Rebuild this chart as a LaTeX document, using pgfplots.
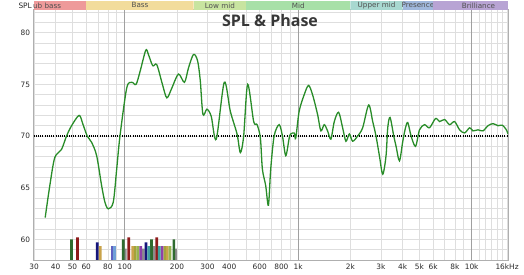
\documentclass[border=0pt]{standalone}
\usepackage{fontspec}
\setmainfont{DejaVu Sans}
\newfontfamily\titlefont{Open Sans}
\usepackage{pgfplots}
\pgfplotsset{compat=1.18}
\definecolor{curvec}{RGB}{40,140,40}
\definecolor{gridc}{RGB}{222,222,222}
\definecolor{gridd}{RGB}{160,160,160}
\definecolor{framec}{RGB}{175,175,175}
\definecolor{labelc}{RGB}{40,40,40}
\definecolor{titlec}{RGB}{55,55,55}
\definecolor{bandtext}{RGB}{80,80,80}
\definecolor{bsub}{RGB}{238,154,154}
\definecolor{bbass}{RGB}{242,220,156}
\definecolor{blowmid}{RGB}{200,228,160}
\definecolor{bmid}{RGB}{168,224,168}
\definecolor{bupper}{RGB}{168,216,208}
\definecolor{bpres}{RGB}{160,184,220}
\definecolor{bbril}{RGB}{184,164,212}
\definecolor{cgray}{RGB}{140,140,140}
\definecolor{cdgreen}{RGB}{47,107,47}
\definecolor{cdred}{RGB}{142,27,27}
\definecolor{cnavy}{RGB}{21,21,122}
\definecolor{ctan}{RGB}{201,163,74}
\definecolor{colive}{RGB}{163,163,58}
\definecolor{cygreen}{RGB}{150,180,80}
\definecolor{cpurple}{RGB}{144,64,168}
\definecolor{cslate}{RGB}{96,96,192}
\definecolor{clblue}{RGB}{112,160,216}
\definecolor{cteal}{RGB}{64,160,160}
\newcommand{\band}[5]{%
  \begin{scope}
    \clip (#1) rectangle ([yshift=9bp]#2);
    \fill[#3] (#1) rectangle ([yshift=9bp]#2);
    \node[inner sep=0pt, text=bandtext, font=\fontsize{7.2bp}{8bp}\selectfont] at ([yshift=4.6bp]#4) {#5};
  \end{scope}}
\begin{document}
\begin{tikzpicture}
\useasboundingbox (0,0) rectangle (524bp,275bp);
\begin{axis}[
  at={(33.5bp,15bp)}, anchor=south west, scale only axis,
  width=474.5bp, height=250bp,
  xmode=log, xmin=29.8, xmax=16200, ymin=58, ymax=82.2,
  xtick={30,40,50,60,80,100,200,300,400,600,800,1000,2000,3000,4000,5000,6000,8000,10000,16000},
  xticklabels={30,40,50,60,80,100,200,300,400,600,800,1k,2k,3k,4k,5k,6k,8k,10k,16kHz},
  minor xtick={70,90,500,700,900,7000,9000,11000,12000,13000,14000,15000},
  ytick={60,65,70,75,80},
  minor ytick={58,59,...,82},
  grid=both,
  major grid style={draw=gridc, line width=0.6bp},
  minor grid style={draw=gridc, line width=0.6bp},
  extra x ticks={100,1000,10000}, extra x tick labels={},
  extra x tick style={grid=major, major grid style={draw=gridd, line width=0.7bp}},
  major tick length=0pt, minor tick length=0pt,
  axis line style={draw=framec, line width=1bp},
  tick label style={font=\fontsize{7.4bp}{9bp}\selectfont, text=labelc},
  /pgf/number format/assume math mode=true,
]
% histogram bars
\addplot[ybar, bar width=2.7bp, bar shift=0pt, draw=none, fill=cgray] coordinates {(100.8,59.1) (128.1,59.1) (147.7,59.35) (196.5,59.1)};
\addplot[ybar, bar width=2.7bp, bar shift=0pt, draw=none, fill=cdgreen] coordinates {(49.3,60.0) (98.1,60.0) (142.5,60.0) (192.0,60.0)};
\addplot[ybar, bar width=2.7bp, bar shift=0pt, draw=none, fill=cdred] coordinates {(53.4,60.2) (105.6,60.2) (152.9,60.2)};
\addplot[ybar, bar width=2.7bp, bar shift=0pt, draw=none, fill=cnavy] coordinates {(69.4,59.7) (132.8,59.7)};
\addplot[ybar, bar width=2.7bp, bar shift=0pt, draw=none, fill=ctan] coordinates {(72.3,59.35) (111.1,59.35) (176.2,59.35)};
\addplot[ybar, bar width=2.7bp, bar shift=0pt, draw=none, fill=colive] coordinates {(115.2,59.35) (170.0,59.35)};
\addplot[ybar, bar width=2.7bp, bar shift=0pt, draw=none, fill=cygreen] coordinates {(119.4,59.35) (182.6,59.35)};
\addplot[ybar, bar width=2.7bp, bar shift=0pt, draw=none, fill=cpurple] coordinates {(123.6,59.35) (164.2,59.35)};
\addplot[ybar, bar width=2.7bp, bar shift=0pt, draw=none, fill=cslate] coordinates {(84.4,59.35)};
\addplot[ybar, bar width=2.7bp, bar shift=0pt, draw=none, fill=clblue] coordinates {(87.5,59.35)};
\addplot[ybar, bar width=2.7bp, bar shift=0pt, draw=none, fill=cteal] coordinates {(137.4,59.35) (158.3,59.35)};
% target line
\addplot[black, line width=1.1bp, dash pattern=on 1bp off 1.2bp] coordinates {(29.8,70) (16200,70)};
% SPL curve
\addplot[curvec, line width=1.3bp, smooth, tension=0.5] coordinates {
(34.8,62.1) (37.0,65.2) (39.5,67.9) (43.2,68.7) (46.2,70.0) (49.4,71.0) (54.6,72.0) (57.4,71.15)
(60.8,70.0) (64.4,69.4) (68.9,68.1) (73.6,65.2) (76.9,63.6) (80.4,62.95) (85.9,63.6) (89.9,66.8)
(93.9,70.0) (102.7,74.65) (109.8,75.2) (116.2,75.0) (122.6,76.25) (132.2,78.3) (136.9,77.9)
(145.1,76.8) (153.1,76.9) (165.0,75.0) (174.9,73.7) (187.0,74.65) (204.1,76.0) (221.0,75.2)
(233.2,76.6) (249.2,77.9) (262.9,77.3) (272.5,75.4) (282.4,72.1) (297.8,72.6) (315.4,71.9)
(337.1,69.7) (375.0,75.2) (406.2,72.4) (444.1,70.2) (464.1,68.4) (484.9,70.0) (511.4,75.0)
(553.9,71.4) (579.4,71.1) (605.5,69.8) (621.8,66.8) (649.8,65.2) (673.6,63.3) (694.5,66.8)
(726.7,70.0) (776.6,71.1) (811.5,70.0) (848.0,68.1) (887.3,69.8) (906.4,70.2) (948.3,70.3)
(968,69.8) (1013,72.4) (1083,74.0) (1147,74.9) (1210,74.0) (1293,72.1) (1351,70.5) (1413,71.1)
(1477,70.5) (1543,69.7) (1615,71.4) (1710,72.3) (1804,70.8) (1884,69.5) (1972,70.2) (2060,69.5)
(2202,70.0) (2353,70.8) (2549,73.0) (2689,71.4) (2809,70.0) (2938,68.1) (3072,66.3) (3210,68.1)
(3283,70.8) (3385,71.8) (3556,70.0) (3667,69.0) (3836,67.6) (4009,69.5) (4155,70.8) (4284,71.3)
(4477,70.0) (4747,69.0) (5005,70.6) (5349,71.1) (5716,70.8) (6193,71.7) (6531,71.4) (6982,71.6)
(7461,71.1) (7974,71.4) (8522,70.6) (9107,70.3) (9736,70.8) (10174,70.5) (10874,70.6) (11623,70.5)
(12421,71.0) (13276,71.2) (14190,71.0) (15030,71.05) (15850,70.6) (16200,70.2)
};
% band boundary coordinates
\coordinate (bL) at (rel axis cs:0,1);
\coordinate (bR) at (rel axis cs:1,1);
\coordinate (b60) at (axis cs:60,82.2);
\coordinate (b250) at (axis cs:250,82.2);
\coordinate (b500) at (axis cs:500,82.2);
\coordinate (b2k) at (axis cs:2000,82.2);
\coordinate (b4k) at (axis cs:4000,82.2);
\coordinate (b6k) at (axis cs:6000,82.2);
\coordinate (l1) at (axis cs:34.64,82.2);
\coordinate (l2) at (axis cs:122.5,82.2);
\coordinate (l3) at (axis cs:353.6,82.2);
\coordinate (l4) at (axis cs:1000,82.2);
\coordinate (l5) at (axis cs:2828,82.2);
\coordinate (l6) at (axis cs:4899,82.2);
\coordinate (l7) at (axis cs:10954,82.2);
\end{axis}
\band{bL}{b60}{bsub}{l1}{Sub bass}
\band{b60}{b250}{bbass}{l2}{Bass}
\band{b250}{b500}{blowmid}{l3}{Low mid}
\band{b500}{b2k}{bmid}{l4}{Mid}
\band{b2k}{b4k}{bupper}{l5}{Upper mid}
\band{b4k}{b6k}{bpres}{l6}{Presence}
\band{b6k}{bR}{bbril}{l7}{Brilliance}
\node[anchor=east, inner sep=0pt, text=labelc, font=\fontsize{7.4bp}{8bp}\selectfont] at (32bp,269.5bp) {SPL};
\node[anchor=base, inner sep=0pt, text=titlec, font=\titlefont\bfseries\fontsize{16bp}{18bp}\selectfont] at (270bp,248bp) {SPL \& Phase};
\end{tikzpicture}
\end{document}
